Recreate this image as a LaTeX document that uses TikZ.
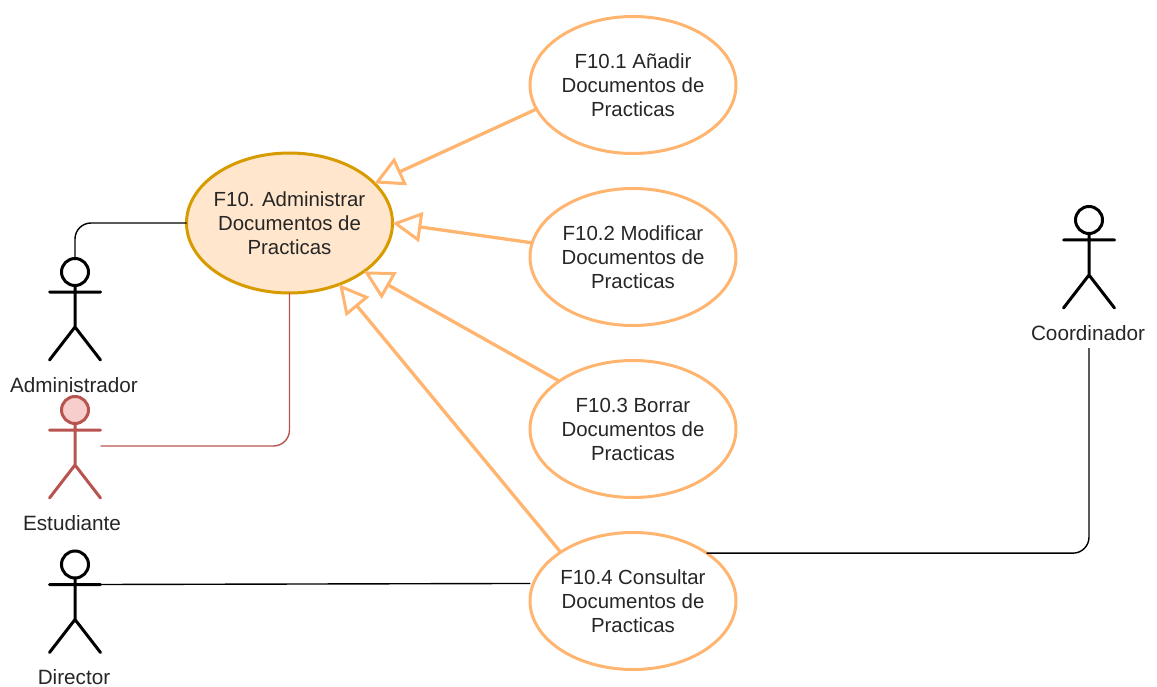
\documentclass[tikz,border=0pt]{standalone}
\usepackage{fontspec}
\setmainfont{Liberation Sans}
\usetikzlibrary{shapes.geometric,arrows.meta}
\definecolor{ucline}{HTML}{FFB570}
\definecolor{mainline}{HTML}{D79B00}
\definecolor{mainfill}{HTML}{FFE6CC}
\definecolor{redline}{HTML}{B85450}
\definecolor{redfill}{HTML}{F8CECC}
\tikzset{
    txt/.style={font=\fontsize{20.4}{24}\selectfont,text=black!85,align=center,inner sep=0pt},
    usecase/.style={txt,ellipse,draw=ucline,line width=3pt,minimum width=206pt,minimum height=137pt,outer sep=0pt},
    mainuse/.style={usecase,draw=mainline,fill=mainfill,minimum height=140pt,inner xsep=-3.5pt},
    isa/.style={draw=ucline,line width=3.3pt,-{Triangle[open,length=29pt,width=30pt,line width=3pt]}},
    link/.style={line width=1.4pt,rounded corners=16pt},
    pics/actor/.style args={#1/#2/#3}{code={
        \draw[draw=#1,fill=#2,line width=3pt] (0,0) circle (13.5);
        \draw[draw=#1,line width=3pt,line cap=round] (0,13.5) -- (0,55) (-25.5,20) -- (25.5,20) (-25.5,88) -- (0,55) -- (25.5,88);
        \coordinate (-top) at (0,-13.5);
        \coordinate (-hand) at (25.5,36);
        \coordinate (-arm) at (25.5,20);
        \coordinate (-foot) at (0,128);
        \node[txt,font=\fontsize{20.7}{24}\selectfont] (-label) at (#3,113) {\tikzpictext};
    }},
}
\begin{document}
\begin{tikzpicture}[x=1pt,y=-1pt]
    \useasboundingbox (0,0) rectangle (1157,687);

    \node[mainuse] (fmain) at (289.5,223) {F10. Administrar\\Documentos de\\Practicas};
    \node[usecase] (fa) at (633,85) {F10.1 Añadir\\Documentos de\\Practicas};
    \node[usecase] (fb) at (633,257) {F10.2 Modificar\\Documentos de\\Practicas};
    \node[usecase] (fc) at (633,429) {F10.3 Borrar\\Documentos de\\Practicas};
    \node[usecase] (fd) at (633,601) {F10.4 Consultar\\Documentos de\\Practicas};

    \pic[pic text=Administrador] (adm) at (75,272) {actor={black/white/-1}};
    \pic[pic text=Estudiante] (est) at (75,410) {actor={redline/redfill/-3}};
    \pic[pic text=Director] (dir) at (75,564.5) {actor={black/white/-1}};
    \pic[pic text=Coordinador] (crd) at (1089,220) {actor={black/white/-1}};

    % generalizaciones
    \draw[isa] (fa.194) -- (fmain.25);
    \draw[isa] (fb.172) -- (fmain.0);
    \draw[isa] (fc.147) -- (fmain.-33.5);
    \draw[isa] (fd.146) -- (fmain.-51);

    \draw[link] (fmain.west) -| (adm-top);
    \draw[link,draw=redline] (est-hand) -| (fmain.south);
    \draw[link,shorten >=3pt] (dir-arm) -- (fd.170);
    \draw[link] (fd.33) -| (crd-foot);

\end{tikzpicture}
\end{document}
